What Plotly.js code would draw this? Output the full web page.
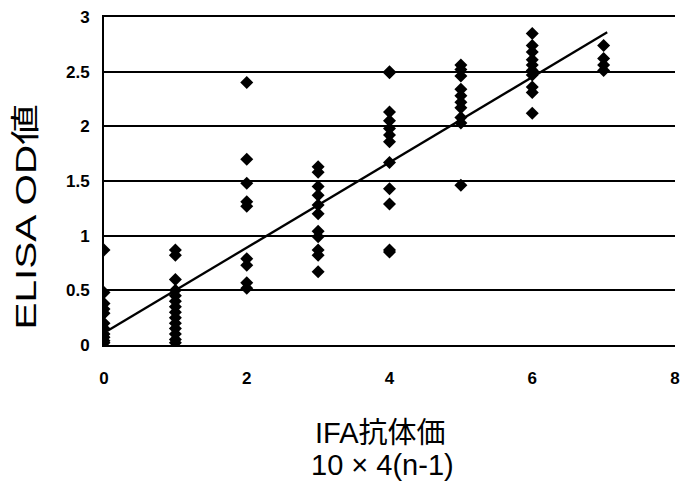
<!DOCTYPE html>
<html>
<head>
<meta charset="utf-8">
<script src="https://cdn.plot.ly/plotly-3.0.1.min.js"></script>
<style>html,body{margin:0;padding:0;background:#fff}#chart{width:681px;height:487px}</style>
</head>
<body>
<div id="chart"></div>
<script>
// IFA titer (x) columns and ELISA OD values
const ifaLevels = [0, 1, 2, 3, 4, 5, 6, 7];
const od0 = [0.87, 0.48, 0.38, 0.33, 0.29, 0.20, 0.15, 0.10, 0.07, 0.04, 0.02];
const od1 = [0.87, 0.82, 0.60, 0.50, 0.45, 0.40, 0.35, 0.30, 0.25, 0.20, 0.15, 0.10, 0.05, 0.02];
const od2 = [2.40, 1.70, 1.48, 1.31, 1.27, 0.79, 0.73, 0.57, 0.52];
const od3 = [1.63, 1.58, 1.45, 1.37, 1.28, 1.20, 1.04, 0.99, 0.87, 0.82, 0.67];
const od4 = [2.50, 2.49, 2.13, 2.05, 1.98, 1.92, 1.86, 1.67, 1.43, 1.29, 0.87, 0.85];
const od5 = [2.56, 2.52, 2.46, 2.34, 2.28, 2.22, 2.17, 2.08, 2.03, 1.46];
const od6 = [2.85, 2.74, 2.68, 2.61, 2.56, 2.51, 2.47, 2.36, 2.31, 2.12];
const od7 = [2.74, 2.62, 2.56, 2.51];
// trend line end points
const trendX = [0.05, 7.05];
const trendY = [0.13, 2.86];
const yTicks = [0, 0.5, 1, 1.5, 2, 2.5, 3];
const yTickText = ['0', '0.5', '1', '1.5', '2', '2.5', '3'];
const xTicks = [0, 2, 4, 6, 8];
const yTitle = 'ELISA OD値';
const xTitleLine1 = 'IFA抗体価';
const xTitleLine2 = '10 × 4(n-1)';

const columns = [od0, od1, od2, od3, od4, od5, od6, od7];
const xs = [], ys = [];
columns.forEach((col, i) => col.forEach(v => { xs.push(ifaLevels[i]); ys.push(v); }));

const fontLatin = '"Liberation Sans", Arial, "Noto Sans CJK JP", sans-serif';
const tickFont = {family: '"Liberation Sans", Arial, sans-serif', size: 17, weight: 700, color: '#000'};

const data = [
  {x: xs, y: ys, type: 'scatter', mode: 'markers',
   marker: {symbol: 'diamond', size: 10, color: '#000'}, hoverinfo: 'x+y'},
  {x: trendX, y: trendY, type: 'scatter', mode: 'lines',
   line: {color: '#000', width: 2.3}, hoverinfo: 'skip'}
];

const layout = {
  width: 681, height: 487,
  margin: {l: 104, r: 6, t: 17, b: 142},
  paper_bgcolor: '#fff', plot_bgcolor: '#fff',
  showlegend: false,
  font: {family: fontLatin, color: '#000'},
  xaxis: {
    range: [0, 8], tickvals: xTicks, ticktext: xTicks.map(String),
    showgrid: false, zeroline: false,
    showline: true, mirror: true, linecolor: '#000', linewidth: 2,
    ticks: '', ticklabelstandoff: 17, ticklabeloverflow: 'allow',
    tickfont: tickFont,
    fixedrange: true
  },
  yaxis: {
    range: [0, 3], tickvals: yTicks, ticktext: yTickText,
    showgrid: true, gridcolor: '#000', gridwidth: 2,
    zeroline: false, showline: true, linecolor: '#000', linewidth: 2,
    ticks: '', ticklabelstandoff: 9,
    tickfont: tickFont,
    fixedrange: true
  },
  annotations: [
    {text: yTitle, xref: 'paper', yref: 'paper', x: -0.136, y: 0.39,
     xanchor: 'center', yanchor: 'middle', textangle: -90, showarrow: false,
     font: {family: fontLatin, size: 29, color: '#000'}},
    {text: xTitleLine1, xref: 'paper', yref: 'paper', x: 0.4835, y: -0.268,
     xanchor: 'center', yanchor: 'middle', showarrow: false,
     font: {family: fontLatin, size: 29, color: '#000'}},
    {text: xTitleLine2, xref: 'paper', yref: 'paper', x: 0.4875, y: -0.366,
     xanchor: 'center', yanchor: 'middle', showarrow: false,
     font: {family: fontLatin, size: 29, color: '#000'}}
  ]
};

Plotly.newPlot('chart', data, layout, {displayModeBar: false, staticPlot: true}).then(gd => {
  // the reference y title is stretched along its reading direction
  const t = gd.querySelector('g.annotation text.annotation-text');
  if (t) {
    const b = t.getBBox();
    const cx = b.x + b.width / 2, cy = b.y + b.height / 2;
    t.setAttribute('transform', `translate(${cx},${cy}) scale(1.4,1) translate(${-cx},${-cy})`);
  }
});
</script>
</body>
</html>
